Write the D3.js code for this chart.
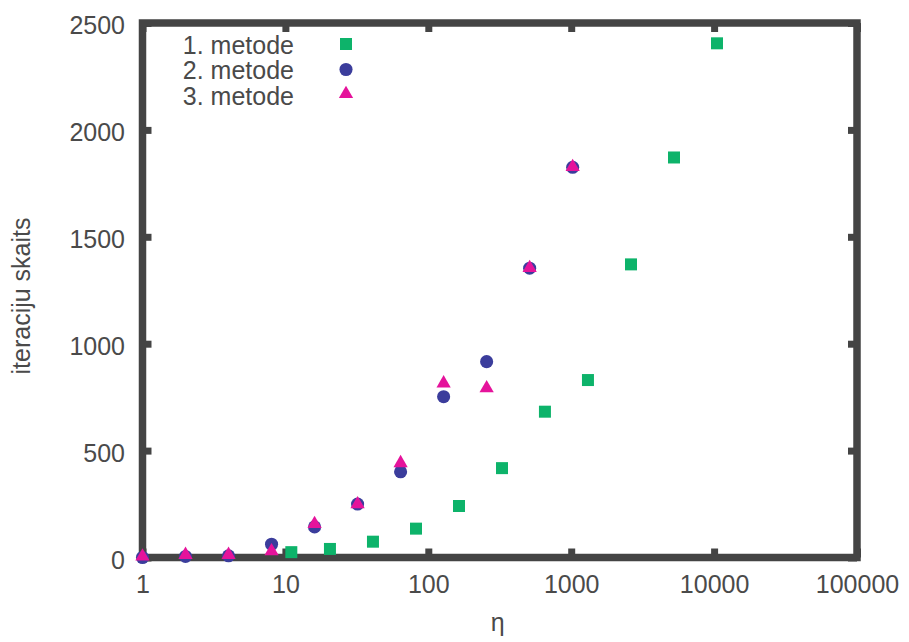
<!DOCTYPE html>
<html>
<head>
<meta charset="utf-8">
<script src="https://cdn.jsdelivr.net/npm/d3@7/dist/d3.min.js"></script>
<style>
  html, body { margin: 0; padding: 0; background: #fff; }
  svg { display: block; }
  text { font-family: "Liberation Sans", Arial, Helvetica, sans-serif; fill: #4a4a4a; }
</style>
</head>
<body>
<svg id="chart" width="909" height="642"></svg>
<script>
// Iteration counts per method against eta
const seriesNames = ["1. metode", "2. metode", "3. metode"];

const eta1 = [11, 20.5, 41, 82, 164, 328, 655, 1310, 2620, 5240, 10480];
const iter1 = [25, 40, 74, 135, 241, 418, 682, 830, 1371, 1871, 2405];

const eta23 = [1, 2, 4, 8, 16, 32, 64, 128, 256, 512, 1024];
const iter2 = [0, 5, 8, 62, 143, 250, 401, 752, 916, 1353, 1825];
const iter3 = [0, 8, 8, 25, 152, 245, 437, 810, 787, 1350, 1822];

const xTicks = [1, 10, 100, 1000, 10000, 100000];
const yTicks = [0, 500, 1000, 1500, 2000, 2500];

const colors = ["#0db36a", "#3b3d9c", "#e5139b"];
const frameColor = "#444";
const textColor = "#4a4a4a";

const margin = { left: 142.5, right: 909 - 857, top: 23, bottom: 642 - 557.5 };
const W = 909, H = 642;
const iw = W - margin.left - margin.right;
const ih = H - margin.top - margin.bottom;

const svg = d3.select("#chart");
const g = svg.append("g").attr("transform", `translate(${margin.left},${margin.top})`);

const x = d3.scaleLog().domain([1, 100000]).range([0, iw]);
const y = d3.scaleLinear().domain([0, 2500]).range([ih, 0]);

function styleAxis(sel) {
  sel.select(".domain").remove();
  sel.selectAll(".tick line").attr("stroke", frameColor).attr("stroke-width", 7);
  sel.selectAll(".tick text").style("font-size", "25px").attr("fill", textColor);
}

// bottom axis with labels
g.append("g").attr("transform", `translate(0,${ih})`)
  .call(d3.axisBottom(x).tickValues(xTicks).tickFormat(d3.format("d"))
    .tickSizeInner(-9).tickSizeOuter(0).tickPadding(18))
  .call(styleAxis);

// top axis, ticks only
g.append("g")
  .call(d3.axisTop(x).tickValues(xTicks).tickFormat("")
    .tickSizeInner(-9).tickSizeOuter(0))
  .call(styleAxis);

// left axis with labels
g.append("g")
  .call(d3.axisLeft(y).tickValues(yTicks).tickFormat(d3.format("d"))
    .tickSizeInner(-9).tickSizeOuter(0).tickPadding(17.5))
  .call(styleAxis)
  .selectAll(".tick text").attr("dy", "0.42em");

// right axis, ticks only
g.append("g").attr("transform", `translate(${iw},0)`)
  .call(d3.axisRight(y).tickValues(yTicks).tickFormat("")
    .tickSizeInner(-9).tickSizeOuter(0))
  .call(styleAxis);

// frame
g.append("rect")
  .attr("x", 0).attr("y", 0).attr("width", iw).attr("height", ih)
  .attr("fill", "none").attr("stroke", frameColor).attr("stroke-width", 7.5);

// axis titles
svg.append("text")
  .attr("x", margin.left + iw / 2 - 2).attr("y", 631)
  .attr("text-anchor", "middle").style("font-size", "25px")
  .text("η");

svg.append("text")
  .attr("transform", `translate(30,296) rotate(-90)`)
  .attr("text-anchor", "middle").style("font-size", "25px")
  .text("iteraciju skaits");

// marker symbols
const symSquare = d3.symbol().type(d3.symbolSquare).size(144);
const symCircle = d3.symbol().type(d3.symbolCircle).size(135);
const symTri = d3.symbol().type(d3.symbolTriangle).size(88);
const symbols = [symSquare, symCircle, symTri];

const series = [
  eta1.map((e, i) => ({ x: e, y: iter1[i] })),
  eta23.map((e, i) => ({ x: e, y: iter2[i] })),
  eta23.map((e, i) => ({ x: e, y: iter3[i] }))
];

series.forEach((pts, si) => {
  g.append("g").selectAll("path")
    .data(pts)
    .join("path")
    .attr("d", symbols[si])
    .attr("transform", d => `translate(${x(d.x)},${y(d.y) - (si === 2 ? 1 : 0)})`)
    .attr("fill", colors[si]);
});

// legend
const legend = svg.append("g");
seriesNames.forEach((name, i) => {
  const row = legend.append("g").attr("transform", `translate(0,${44 + i * 25.5})`);
  row.append("text")
    .attr("x", 294).attr("y", 9.5)
    .attr("text-anchor", "end").style("font-size", "25px")
    .text(name);
  row.append("path")
    .attr("d", symbols[i])
    .attr("transform", `translate(346,${i === 2 ? -1 : 0})`)
    .attr("fill", colors[i]);
});
</script>
</body>
</html>
